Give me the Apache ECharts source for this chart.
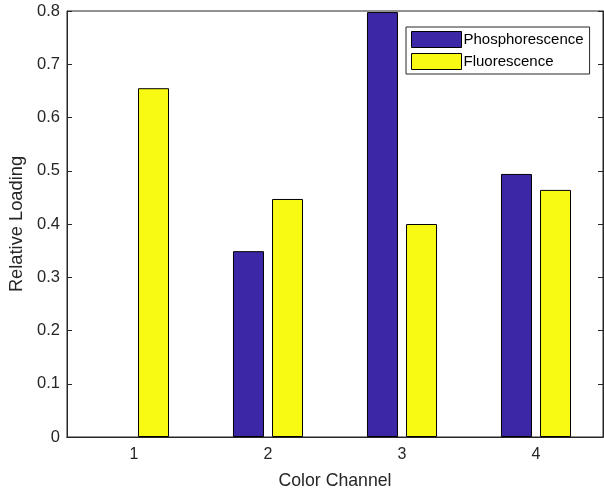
<!DOCTYPE html>
<html><head><meta charset="utf-8">
<script src="https://cdn.jsdelivr.net/npm/echarts@6/dist/echarts.min.js"></script>
<style>html,body{margin:0;padding:0;background:#fff}#c{width:604px;height:493px}</style>
</head><body><div id="c"></div>
<script>
const categories = ['1', '2', '3', '4'];
const phosphorescence = [0, 0.349, 0.798, 0.494];
const fluorescence = [0.655, 0.447, 0.400, 0.464];
const yTicks = [0, 0.1, 0.2, 0.3, 0.4, 0.5, 0.6, 0.7, 0.8];

const axisColor = '#262626';
const font = 'Liberation Sans';
const chart = echarts.init(document.getElementById('c'));
chart.setOption({
  animation: false,
  textStyle: { fontFamily: font },
  grid: { left: 67, right: 1, top: 11, bottom: 56, containLabel: false, outerBoundsMode: 'none',
    show: true, borderColor: axisColor, borderWidth: 1, backgroundColor: '#fff' },
  legend: {
    left: 406, top: 27, orient: 'vertical', icon: 'rect',
    itemWidth: 50, itemHeight: 16, itemGap: 5,
    padding: [4, 6, 4, 5],
    borderColor: axisColor, borderWidth: 1, backgroundColor: '#fff',
    itemStyle: { borderWidth: 1, borderColor: '#000' },
    textStyle: { fontSize: 15, color: '#000', padding: [0, 0, 0, -3], fontFamily: font },
    data: ['Phosphorescence', 'Fluorescence']
  },
  xAxis: [{
    type: 'category', data: categories, boundaryGap: true,
    name: 'Color Channel', nameLocation: 'middle', nameGap: 35,
    nameTextStyle: { fontSize: 17.7, color: axisColor },
    axisLine: { lineStyle: { color: axisColor } },
    axisTick: { inside: true, alignWithLabel: true, length: 5, lineStyle: { color: axisColor } },
    axisLabel: { fontSize: 16, color: axisColor, margin: 10 }
  }, {
    type: 'category', data: categories, position: 'top', boundaryGap: true,
    axisLine: { lineStyle: { color: axisColor } },
    axisTick: { inside: true, alignWithLabel: true, length: 5, lineStyle: { color: axisColor } },
    axisLabel: { show: false }
  }],
  yAxis: [{
    type: 'value', min: 0, max: 0.8, interval: 0.1,
    name: 'Relative Loading', nameLocation: 'middle', nameGap: 39,
    nameTextStyle: { fontSize: 18.3, color: axisColor },
    axisLine: { show: true, lineStyle: { color: axisColor } },
    axisTick: { show: true, inside: true, length: 5, lineStyle: { color: axisColor } },
    splitLine: { show: false },
    axisLabel: { fontSize: 16.5, color: axisColor, margin: 7, formatter: v => { const t = yTicks.find(x => Math.abs(x - v) < 1e-9); return t === undefined ? '' : String(t); } }
  }, {
    type: 'value', min: 0, max: 0.8, interval: 0.1, position: 'right',
    axisLine: { show: true, lineStyle: { color: axisColor } },
    axisTick: { show: true, inside: true, length: 5, lineStyle: { color: axisColor } },
    splitLine: { show: false }, axisLabel: { show: false }
  }],
  series: [{
    name: 'Phosphorescence', type: 'bar', data: phosphorescence.map(v => v === 0 ? '-' : v),
    barWidth: 31, barGap: '26%',
    itemStyle: { color: '#3C28A6', borderColor: '#000', borderWidth: 1 }
  }, {
    name: 'Fluorescence', type: 'bar', data: fluorescence.map(v => v === 0 ? '-' : v),
    barWidth: 31, barGap: '26%',
    itemStyle: { color: '#F8FA14', borderColor: '#000', borderWidth: 1 }
  }]
});
</script></body></html>
